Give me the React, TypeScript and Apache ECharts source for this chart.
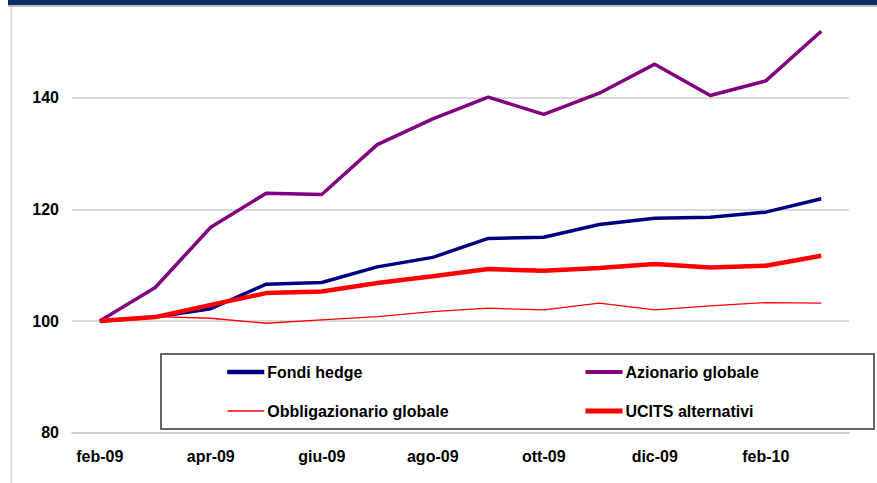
import React, { useEffect, useRef } from "react";
import * as echarts from "echarts";

const categories = ["feb-09", "mar-09", "apr-09", "mag-09", "giu-09", "lug-09", "ago-09", "set-09", "ott-09", "nov-09", "dic-09", "gen-10", "feb-10", "mar-10"];
const fondiHedge = [100, 100.7, 102.2, 106.6, 106.9, 109.7, 111.4, 114.8, 115.0, 117.3, 118.4, 118.6, 119.5, 121.9];
const azionarioGlobale = [100, 106.0, 116.8, 122.9, 122.65, 131.6, 136.2, 140.1, 137.0, 140.8, 146.0, 140.4, 143.0, 151.9];
const obbligazionarioGlobale = [100, 100.8, 100.5, 99.6, 100.2, 100.8, 101.7, 102.3, 102.0, 103.2, 102.0, 102.7, 103.3, 103.2];
const ucitsAlternativi = [100, 100.7, 102.9, 105.0, 105.3, 106.8, 108.0, 109.3, 109.0, 109.5, 110.2, 109.6, 109.9, 111.7];
const seriesNames = ["Fondi hedge", "Azionario globale", "Obbligazionario globale", "UCITS alternativi"];
const seriesColors = ["#000080", "#800080", "#ff0000", "#ff0000"];
const seriesWidths = [3.5, 3.5, 1.3, 4.5];
const legendWidths = [4.5, 4, 1.3, 5];

const FONT = "'Liberation Sans', Arial, sans-serif";
// the chart canvas starts above the page so that the 160 gridline falls outside the view
const OFFSET = 14;

export default function App() {
  const ref = useRef<HTMLDivElement>(null);
  useEffect(() => {
    if (!ref.current) return;
    const chart = echarts.init(ref.current, null, { renderer: "svg" });
    const textBase = { fontFamily: FONT, fontSize: 16, fontWeight: "bold" as const, color: "#000" };
    const legendItem = (i: number) => ({
      name: seriesNames[i],
      lineStyle: { color: seriesColors[i], width: legendWidths[i] },
    });
    const legendBase = {
      z: 5,
      orient: "vertical" as const,
      top: 364 + OFFSET,
      padding: 0,
      itemWidth: 37,
      itemHeight: 14,
      itemGap: 23,
      itemStyle: { opacity: 0 },
      textStyle: { ...textBase, padding: [0, 0, 0, -2] },
    };
    const allSeries = [fondiHedge, azionarioGlobale, obbligazionarioGlobale, ucitsAlternativi];
    chart.setOption({
      animation: false,
      backgroundColor: "#fff",
      graphic: [
        { type: "rect", z: 10, shape: { x: 8, y: OFFSET - 20, width: 877, height: 25 }, style: { fill: "#0c2d6a" } },
        { type: "rect", z: 9, shape: { x: 8, y: OFFSET + 5, width: 877, height: 2 }, style: { fill: "#bdbdbd" } },
        { type: "rect", z: 9, shape: { x: 10.5, y: OFFSET + 7, width: 1.5, height: 480 }, style: { fill: "#d6d6d6" } },
        { type: "rect", z: 3, shape: { x: 161, y: 354 + OFFSET, width: 713, height: 75 }, style: { fill: "#fff", stroke: "#333", lineWidth: 1.5 } },
      ],
      grid: { left: 72, right: 28, top: 0, bottom: 50.3, containLabel: false },
      legend: [
        { ...legendBase, left: 225, data: [legendItem(0), legendItem(2)] },
        { ...legendBase, left: 583, data: [legendItem(1), legendItem(3)] },
      ],
      xAxis: {
        type: "category",
        data: categories,
        boundaryGap: true,
        axisLine: { lineStyle: { color: "#c8c8c8", width: 1.5 } },
        axisTick: { interval: 1, length: 5, lineStyle: { color: "#c8c8c8", width: 1.5 } },
        axisLabel: { ...textBase, interval: 1, margin: 16 },
        splitLine: { show: false },
      },
      yAxis: {
        type: "value",
        min: 80,
        max: 160,
        interval: 20,
        axisLine: { show: false },
        axisTick: { show: false },
        axisLabel: { ...textBase, margin: 13, formatter: (v: number) => (v >= 160 ? "" : String(v)) },
        splitLine: { lineStyle: { color: "#cccccc", width: 1.5 } },
      },
      series: allSeries.map((d, i) => ({
        name: seriesNames[i],
        type: "line",
        data: d,
        symbol: "none",
        lineStyle: { color: seriesColors[i], width: seriesWidths[i] },
        itemStyle: { color: seriesColors[i] },
      })),
    });
    return () => chart.dispose();
  }, []);
  return <div ref={ref} style={{ position: "fixed", left: 0, top: -OFFSET, width: 877, height: 483 + OFFSET }} />;
}
